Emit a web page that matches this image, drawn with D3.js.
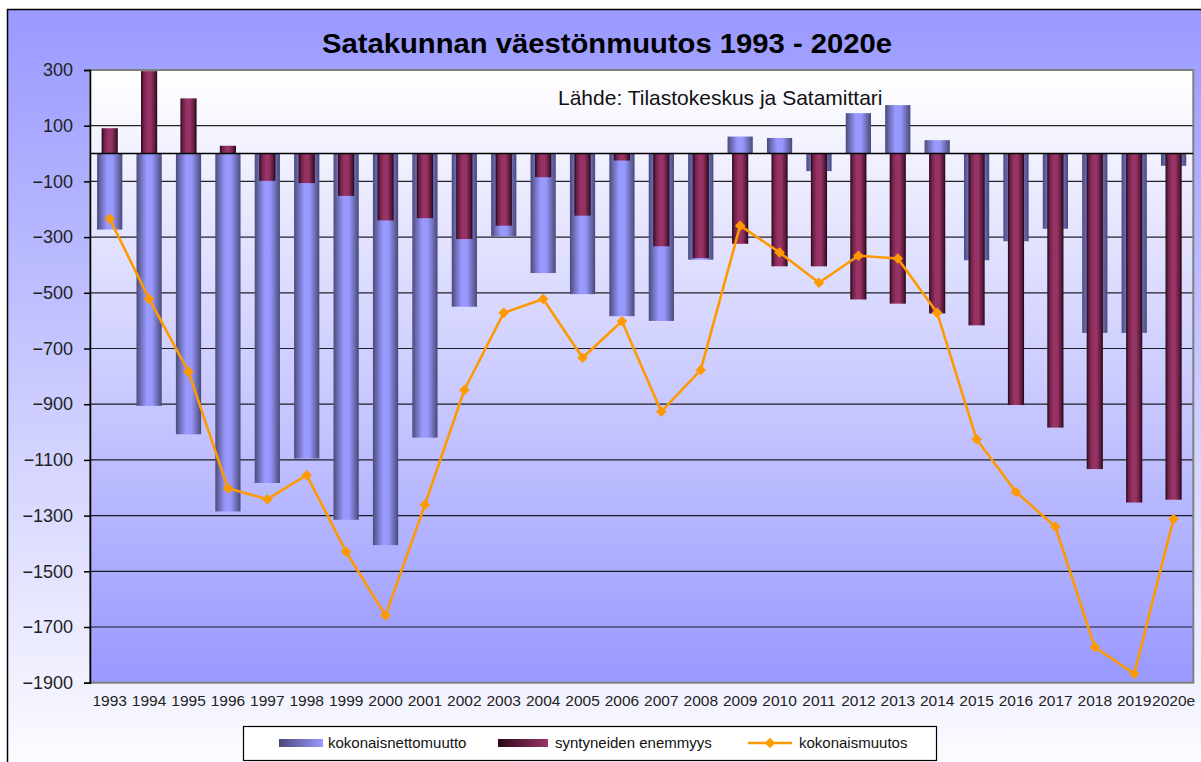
<!DOCTYPE html>
<html>
<head>
<meta charset="utf-8">
<script src="https://cdn.jsdelivr.net/npm/d3@7"></script>
<style>
  html, body { margin: 0; padding: 0; background: #ffffff; }
  svg { display: block; }
  text { font-family: "Liberation Sans", Arial, sans-serif; }
</style>
</head>
<body>
<svg id="chart" width="1201" height="762"></svg>
<script>
const chartTitle = "Satakunnan väestönmuutos 1993 - 2020e";
const sourceNote = "Lähde: Tilastokeskus ja Satamittari";
const years = ["1993","1994","1995","1996","1997","1998","1999","2000","2001","2002",
  "2003","2004","2005","2006","2007","2008","2009","2010","2011","2012",
  "2013","2014","2015","2016","2017","2018","2019","2020e"];
const kokonaisnettomuutto = [-273,-906,-1008,-1285,-1183,-1095,-1315,-1406,-1020,-550,
  -297,-429,-505,-584,-601,-381,61,56,-63,145,
  174,48,-383,-315,-270,-644,-644,-44];
const syntyneidenEnemmyys = [91,296,198,28,-98,-106,-152,-240,-232,-307,
  -259,-85,-223,-25,-333,-375,-324,-405,-405,-524,
  -539,-574,-617,-903,-984,-1133,-1253,-1243];
const kokonaismuutos = [-234,-522,-783,-1202,-1241,-1155,-1430,-1659,-1261,-849,
  -572,-522,-733,-602,-927,-777,-259,-355,-464,-367,
  -377,-572,-1026,-1215,-1340,-1772,-1868,-1312];
const yTicks = [300,100,-100,-300,-500,-700,-900,-1100,-1300,-1500,-1700,-1900];
const seriesNames = ["kokonaisnettomuutto","syntyneiden enemmyys","kokonaismuutos"];

const svg = d3.select("#chart");
const defs = svg.append("defs");

// gradients
const outerGrad = defs.append("linearGradient").attr("id","outerGrad")
  .attr("x1",0).attr("y1",0).attr("x2",0).attr("y2",1);
outerGrad.append("stop").attr("offset","0%").attr("stop-color","#9999ff");
outerGrad.append("stop").attr("offset","100%").attr("stop-color","#ffffff");

const plotGrad = defs.append("linearGradient").attr("id","plotGrad")
  .attr("x1",0).attr("y1",0).attr("x2",0).attr("y2",1);
plotGrad.append("stop").attr("offset","0%").attr("stop-color","#ffffff");
plotGrad.append("stop").attr("offset","100%").attr("stop-color","#9999ff");

function hGrad(id, stops) {
  const g = defs.append("linearGradient").attr("id", id)
    .attr("x1",0).attr("y1",0).attr("x2",1).attr("y2",0);
  stops.forEach(s => g.append("stop").attr("offset", s[0]).attr("stop-color", s[1]));
}
hGrad("blueBar", [["0%","#4a4a78"],["18%","#7070bb"],["40%","#9999ff"],["62%","#9797fc"],["85%","#6868ad"],["100%","#484876"]]);
hGrad("maroonBar", [["0%","#240616"],["16%","#6e2248"],["40%","#993366"],["62%","#963264"],["86%","#5a1a3a"],["100%","#220614"]]);
hGrad("blueSwatch", [["0%","#4a4a78"],["100%","#9999ff"]]);
hGrad("maroonSwatch", [["0%","#2a0818"],["100%","#993366"]]);

// chart area
svg.append("rect").attr("x",7.5).attr("y",9.5).attr("width",1220).attr("height",780)
  .attr("fill","url(#outerGrad)").attr("stroke","#000").attr("stroke-width",1.5);

const plotL = 90, plotR = 1193.3, plotT = 70, plotB = 682.7;

const x = d3.scaleBand().domain(years).range([plotL, plotR]).paddingInner(0).paddingOuter(0);
const y = d3.scaleLinear().domain([-1900, 300]).range([plotB, plotT]);

// plot area
svg.append("rect").attr("x",plotL).attr("y",plotT).attr("width",plotR-plotL).attr("height",plotB-plotT)
  .attr("fill","url(#plotGrad)");

// gridlines
svg.append("g").selectAll("line").data(yTicks.filter(v => v !== 300 && v !== -1900)).join("line")
  .attr("x1",plotL).attr("x2",plotR).attr("y1",d => y(d)).attr("y2",d => y(d))
  .attr("stroke","#000").attr("stroke-width",1.2).attr("opacity",0.85);

// plot border
svg.append("rect").attr("x",plotL).attr("y",plotT).attr("width",plotR-plotL).attr("height",plotB-plotT)
  .attr("fill","none").attr("stroke","#808080").attr("stroke-width",2);

// source note
svg.append("text").attr("x",558).attr("y",105).attr("font-size",21).attr("fill","#111")
  .text(sourceNote);

const bw = x.bandwidth();
const blueW = bw * 0.64, maroonW = bw * 0.41;

// blue bars
svg.append("g").selectAll("rect").data(years).join("rect")
  .attr("x", d => x(d) + (bw - blueW) / 2)
  .attr("width", blueW)
  .attr("y", (d,i) => y(Math.max(0, kokonaisnettomuutto[i])))
  .attr("height", (d,i) => Math.abs(y(kokonaisnettomuutto[i]) - y(0)))
  .attr("fill","url(#blueBar)");

// maroon bars
svg.append("g").selectAll("rect").data(years).join("rect")
  .attr("x", d => x(d) + (bw - maroonW) / 2)
  .attr("width", maroonW)
  .attr("y", (d,i) => y(Math.max(0, syntyneidenEnemmyys[i])))
  .attr("height", (d,i) => Math.abs(y(syntyneidenEnemmyys[i]) - y(0)))
  .attr("fill","url(#maroonBar)");

// zero line (category axis)
svg.append("line").attr("x1",plotL).attr("x2",plotR).attr("y1",y(0)).attr("y2",y(0))
  .attr("stroke","#000").attr("stroke-width",1.5);

// line series
const cx = d => x(d) + bw / 2;
const lineGen = d3.line().x(d => cx(d)).y((d,i) => y(kokonaismuutos[i]));
svg.append("path").datum(years).attr("d", lineGen)
  .attr("fill","none").attr("stroke","#ff9900").attr("stroke-width",2.6).attr("stroke-linejoin","round");
const diamond = d3.symbol().type(d3.symbolSquare).size(56);
svg.append("g").selectAll("path").data(years).join("path")
  .attr("d", diamond)
  .attr("transform", (d,i) => `translate(${cx(d)},${y(kokonaismuutos[i])}) rotate(45)`)
  .attr("fill","#ff9900");

// y axis
const yAxis = svg.append("g").attr("transform",`translate(${plotL},0)`)
  .call(d3.axisLeft(y).tickValues(yTicks).tickSize(6).tickPadding(11).tickFormat(d3.format("d")));
yAxis.select(".domain").attr("stroke","#000").attr("stroke-width",1.5);
yAxis.selectAll(".tick line").attr("stroke","#000").attr("stroke-width",1.5);
yAxis.selectAll(".tick text").attr("font-size",18).attr("fill","#222")
  .attr("font-family","'Liberation Sans', Arial, sans-serif");

// x axis
const xAxis = svg.append("g").attr("transform",`translate(0,${plotB})`)
  .call(d3.axisBottom(x).tickSize(0).tickPadding(12));
xAxis.select(".domain").remove();
xAxis.selectAll(".tick text").attr("font-size",15.5).attr("fill","#222")
  .attr("font-family","'Liberation Sans', Arial, sans-serif");

// title
svg.append("text").attr("x",607).attr("y",53).attr("text-anchor","middle")
  .attr("font-size",28).attr("font-weight","bold").attr("fill","#000")
  .attr("textLength",570).attr("lengthAdjust","spacingAndGlyphs")
  .text(chartTitle);

// legend
const lg = svg.append("g");
lg.append("rect").attr("x",243.5).attr("y",726.5).attr("width",693).attr("height",34)
  .attr("fill","#fff").attr("stroke","#000").attr("stroke-width",1.2);
const ly = 743;
lg.append("rect").attr("x",279).attr("y",ly-4).attr("width",44).attr("height",8).attr("fill","url(#blueSwatch)");
lg.append("text").attr("x",328).attr("y",ly+5).attr("font-size",15).attr("fill","#111").text(seriesNames[0]);
lg.append("rect").attr("x",498).attr("y",ly-4).attr("width",50).attr("height",8).attr("fill","url(#maroonSwatch)");
lg.append("text").attr("x",555).attr("y",ly+5).attr("font-size",15).attr("fill","#111").text(seriesNames[1]);
lg.append("line").attr("x1",748).attr("x2",792).attr("y1",ly).attr("y2",ly)
  .attr("stroke","#ff9900").attr("stroke-width",2.6);
lg.append("path").attr("d",diamond).attr("transform",`translate(770,${ly}) rotate(45)`).attr("fill","#ff9900");
lg.append("text").attr("x",799).attr("y",ly+5).attr("font-size",15).attr("fill","#111").text(seriesNames[2]);
</script>
</body>
</html>
